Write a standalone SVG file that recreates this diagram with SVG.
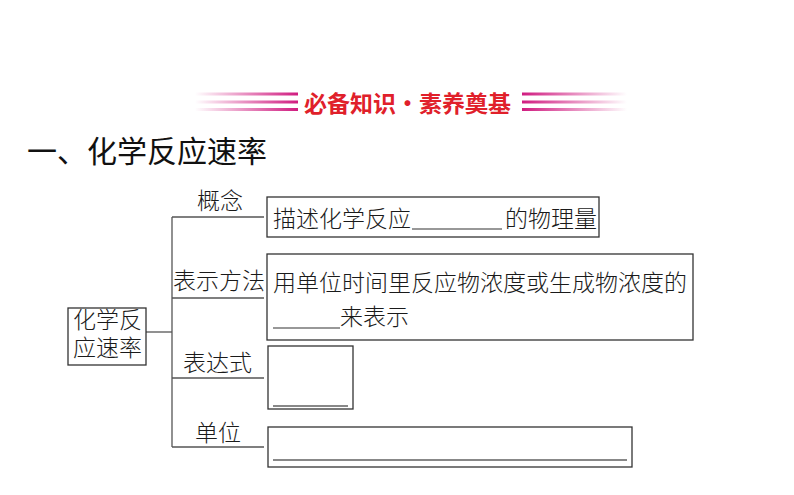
<svg xmlns="http://www.w3.org/2000/svg" width="794" height="495" viewBox="0 0 794 495">
<defs>
<linearGradient id="gl" x1="0" y1="0" x2="1" y2="0">
<stop offset="0" stop-color="#d01c80" stop-opacity="0"/>
<stop offset="1" stop-color="#d01c80"/>
</linearGradient>
<linearGradient id="gr" x1="0" y1="0" x2="1" y2="0">
<stop offset="0" stop-color="#d01c80"/>
<stop offset="1" stop-color="#d01c80" stop-opacity="0"/>
</linearGradient>
</defs>
<style>
.t{font-family:"Noto Sans CJK SC","Noto Sans CJK TC",sans-serif;font-size:23px;fill:#1a1a1a;font-weight:300}
.box{fill:none;stroke:#333;stroke-width:1.3}
.ln{stroke:#555;stroke-width:1.3;fill:none}
.blank{stroke:#333;stroke-width:1.2}
.gblank{stroke:#888;stroke-width:2}
</style>
<rect width="794" height="495" fill="#fff"/>
<g id="banner">
<rect x="195" y="92.5" width="103" height="3" fill="url(#gl)"/>
<rect x="195" y="100.5" width="103" height="3" fill="url(#gl)"/>
<rect x="195" y="108" width="103" height="3" fill="url(#gl)"/>
<rect x="522" y="92.5" width="105" height="3" fill="url(#gr)"/>
<rect x="522" y="100.5" width="105" height="3" fill="url(#gr)"/>
<rect x="522" y="108" width="105" height="3" fill="url(#gr)"/>
<text x="407.5" y="111.5" text-anchor="middle" style="font-family:'Noto Sans CJK SC',sans-serif;font-size:23px;font-weight:700;fill:#e0202a">必备知识·素养奠基</text>
</g>
<g id="title">
<text x="27" y="162" style="font-family:'Noto Sans CJK SC',sans-serif;font-size:30px;fill:#111;font-weight:400">一、化学反应速率</text>
</g>
<g id="connectors">
<line class="ln" x1="146" y1="332" x2="172" y2="332"/>
<line class="ln" x1="172" y1="217" x2="172" y2="447"/>
<line class="ln" x1="172" y1="217" x2="264" y2="217"/>
<line class="ln" x1="172" y1="298" x2="264" y2="298"/>
<line class="ln" x1="172" y1="378" x2="264" y2="378"/>
<line class="ln" x1="172" y1="447" x2="264" y2="447"/>
</g>
<g id="root">
<rect class="box" x="68" y="308" width="78" height="57"/>
<text class="t" x="73" y="328">化学反</text>
<text class="t" x="73" y="356">应速率</text>
</g>
<g id="label-concept"><text class="t" x="197" y="209">概念</text></g>
<g id="label-method"><text class="t" x="173" y="289">表示方法</text></g>
<g id="label-expr"><text class="t" x="183" y="371">表达式</text></g>
<g id="label-unit"><text class="t" x="195" y="441">单位</text></g>
<g id="box-concept">
<rect class="box" x="267" y="197" width="332" height="40"/>
<text class="t" x="273" y="227">描述化学反应</text>
<line class="blank" x1="412" y1="229" x2="502" y2="229"/>
<text class="t" x="505" y="227">的物理量</text>
</g>
<g id="box-method">
<rect class="box" x="267" y="254" width="426" height="86"/>
<text class="t" x="273" y="291">用单位时间里反应物浓度或生成物浓度的</text>
<line class="blank" x1="273" y1="328" x2="340" y2="328"/>
<text class="t" x="340" y="325">来表示</text>
</g>
<g id="box-expr">
<rect class="box" x="268" y="346" width="85" height="63"/>
<line class="gblank" x1="273" y1="406" x2="348" y2="406"/>
</g>
<g id="box-unit">
<rect class="box" x="268" y="427" width="364" height="40"/>
<line class="gblank" x1="273" y1="460" x2="627" y2="460"/>
</g>
</svg>
